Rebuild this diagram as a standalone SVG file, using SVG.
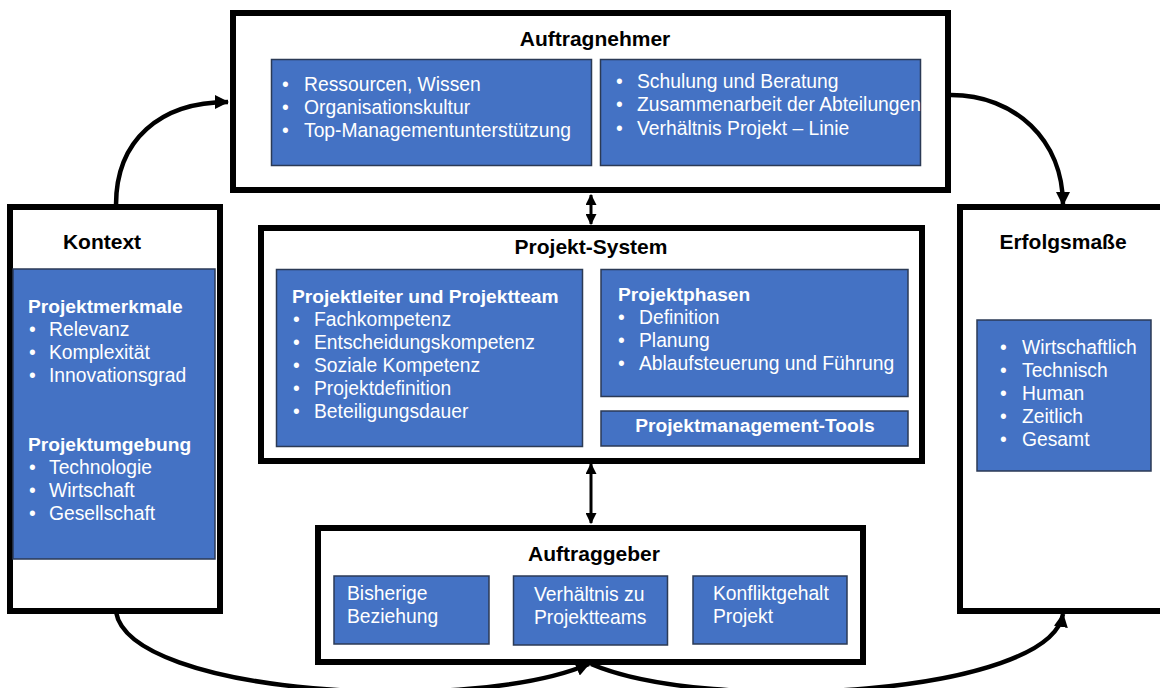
<svg xmlns="http://www.w3.org/2000/svg" width="1160" height="688" viewBox="0 0 1160 688">
  <style>
    .frame { fill: #ffffff; stroke: #000000; stroke-width: 6; }
    .panel { fill: #4472c4; stroke: #2b3a55; stroke-width: 1.5; }
    .title { font-family: "Liberation Sans", Arial, sans-serif; font-weight: bold; font-size: 21px; fill: #000000; text-anchor: middle; }
    .txt { font-family: "Liberation Sans", Arial, sans-serif; font-size: 19.3px; fill: #ffffff; }
    .sub { font-family: "Liberation Sans", Arial, sans-serif; font-size: 19.2px; font-weight: bold; fill: #ffffff; }
    .flow { fill: none; stroke: #000000; stroke-width: 4.5; }
    .link { fill: none; stroke: #000000; stroke-width: 3; }
  </style>
  <defs>
    <marker id="headBig" viewBox="0 0 14 14" refX="13" refY="7" markerWidth="14" markerHeight="14" markerUnits="userSpaceOnUse" orient="auto">
      <path d="M0,0 L14,7 L0,14 Z" fill="#000000"/>
    </marker>
    <marker id="headSmall" viewBox="0 0 10 10" refX="9" refY="5" markerWidth="11" markerHeight="11" markerUnits="userSpaceOnUse" orient="auto-start-reverse">
      <path d="M0,0 L10,5 L0,10 Z" fill="#000000"/>
    </marker>
  </defs>

  <rect width="1160" height="688" fill="#ffffff"/>

  <!-- connectors -->
  <g id="connectors">
    <path class="flow" d="M116,205 C116,140 160,102 228,102" marker-end="url(#headBig)"/>
    <path class="flow" d="M951,95 C1015,95 1063,140 1063,205" marker-end="url(#headBig)"/>
    <path class="flow" d="M116,612 C130,695 470,715 589,664" marker-end="url(#headBig)"/>
    <path class="flow" d="M591,664 C710,715 1050,695 1063,614" marker-end="url(#headBig)"/>
    <path class="link" d="M591,195 L591,224" marker-start="url(#headSmall)" marker-end="url(#headSmall)"/>
    <path class="link" d="M591,464 L591,523" marker-start="url(#headSmall)" marker-end="url(#headSmall)"/>
  </g>

  <!-- Auftragnehmer -->
  <g id="auftragnehmer">
    <rect class="frame" x="233" y="13" width="715" height="177"/>
    <text class="title" x="595" y="45.5">Auftragnehmer</text>
    <rect class="panel" x="271.5" y="59.5" width="320" height="106"/>
    <text class="txt" x="282" y="90.5">•</text>
    <text class="txt" x="304" y="90.5">Ressourcen, Wissen</text>
    <text class="txt" x="282" y="113.5">•</text>
    <text class="txt" x="304" y="113.5">Organisationskultur</text>
    <text class="txt" x="282" y="136.5">•</text>
    <text class="txt" x="304" y="136.5">Top-Managementunterstützung</text>
    <rect class="panel" x="600.5" y="59.5" width="320" height="106"/>
    <text class="txt" x="616" y="87.5">•</text>
    <text class="txt" x="637" y="87.5">Schulung und Beratung</text>
    <text class="txt" x="616" y="110.5">•</text>
    <text class="txt" x="637" y="110.5" textLength="284" lengthAdjust="spacingAndGlyphs">Zusammenarbeit der Abteilungen</text>
    <text class="txt" x="616" y="134.5">•</text>
    <text class="txt" x="637" y="134.5">Verhältnis Projekt – Linie</text>
  </g>

  <!-- Kontext -->
  <g id="kontext">
    <rect class="frame" x="10" y="207" width="210" height="404"/>
    <text class="title" x="102" y="248.5">Kontext</text>
    <rect class="panel" x="13" y="269" width="202" height="290"/>
    <text class="sub" x="28" y="312.5">Projektmerkmale</text>
    <text class="txt" x="29" y="335.5">•</text>
    <text class="txt" x="49" y="335.5">Relevanz</text>
    <text class="txt" x="29" y="358.5">•</text>
    <text class="txt" x="49" y="358.5">Komplexität</text>
    <text class="txt" x="29" y="381.5">•</text>
    <text class="txt" x="49" y="381.5">Innovationsgrad</text>
    <text class="sub" x="28" y="450.5">Projektumgebung</text>
    <text class="txt" x="29" y="473.5">•</text>
    <text class="txt" x="49" y="473.5">Technologie</text>
    <text class="txt" x="29" y="496.5">•</text>
    <text class="txt" x="49" y="496.5">Wirtschaft</text>
    <text class="txt" x="29" y="519.5">•</text>
    <text class="txt" x="49" y="519.5">Gesellschaft</text>
  </g>

  <!-- Erfolgsmaße -->
  <g id="erfolgsmasse">
    <rect class="frame" x="960" y="207" width="250" height="404"/>
    <text class="title" x="1063" y="249">Erfolgsmaße</text>
    <rect class="panel" x="977" y="320" width="174" height="151"/>
    <text class="txt" x="1000" y="353.5">•</text>
    <text class="txt" x="1022" y="353.5">Wirtschaftlich</text>
    <text class="txt" x="1000" y="376.5">•</text>
    <text class="txt" x="1022" y="376.5">Technisch</text>
    <text class="txt" x="1000" y="399.5">•</text>
    <text class="txt" x="1022" y="399.5">Human</text>
    <text class="txt" x="1000" y="422.5">•</text>
    <text class="txt" x="1022" y="422.5">Zeitlich</text>
    <text class="txt" x="1000" y="445.5">•</text>
    <text class="txt" x="1022" y="445.5">Gesamt</text>
  </g>

  <!-- Projekt-System -->
  <g id="projekt-system">
    <rect class="frame" x="261" y="228" width="661" height="233"/>
    <text class="title" x="591" y="254">Projekt-System</text>
    <rect class="panel" x="276.5" y="269.5" width="306" height="177"/>
    <text class="sub" x="292" y="302.5">Projektleiter und Projektteam</text>
    <text class="txt" x="293" y="325.5">•</text>
    <text class="txt" x="314" y="325.5">Fachkompetenz</text>
    <text class="txt" x="293" y="348.5">•</text>
    <text class="txt" x="314" y="348.5">Entscheidungskompetenz</text>
    <text class="txt" x="293" y="371.5">•</text>
    <text class="txt" x="314" y="371.5">Soziale Kompetenz</text>
    <text class="txt" x="293" y="394.5">•</text>
    <text class="txt" x="314" y="394.5">Projektdefinition</text>
    <text class="txt" x="293" y="417.5">•</text>
    <text class="txt" x="314" y="417.5">Beteiligungsdauer</text>
    <rect class="panel" x="601" y="269.5" width="307" height="127"/>
    <text class="sub" x="618" y="300.5">Projektphasen</text>
    <text class="txt" x="618" y="323.5">•</text>
    <text class="txt" x="639" y="323.5">Definition</text>
    <text class="txt" x="618" y="346.5">•</text>
    <text class="txt" x="639" y="346.5">Planung</text>
    <text class="txt" x="618" y="369.5">•</text>
    <text class="txt" x="639" y="369.5">Ablaufsteuerung und Führung</text>
    <rect class="panel" x="601" y="411" width="307" height="35"/>
    <text class="sub" x="755" y="432" text-anchor="middle">Projektmanagement-Tools</text>
  </g>

  <!-- Auftraggeber -->
  <g id="auftraggeber">
    <rect class="frame" x="318" y="528" width="545" height="134"/>
    <text class="title" x="594" y="560.5">Auftraggeber</text>
    <rect class="panel" x="334" y="576" width="155" height="68"/>
    <text class="txt" x="347" y="599.5">Bisherige</text>
    <text class="txt" x="347" y="622.5">Beziehung</text>
    <rect class="panel" x="513.5" y="576" width="154" height="69"/>
    <text class="txt" x="534" y="600.5">Verhältnis zu</text>
    <text class="txt" x="534" y="623.5">Projektteams</text>
    <rect class="panel" x="693" y="576" width="154" height="68"/>
    <text class="txt" x="713" y="599.5">Konfliktgehalt</text>
    <text class="txt" x="713" y="622.5">Projekt</text>
  </g>
</svg>
